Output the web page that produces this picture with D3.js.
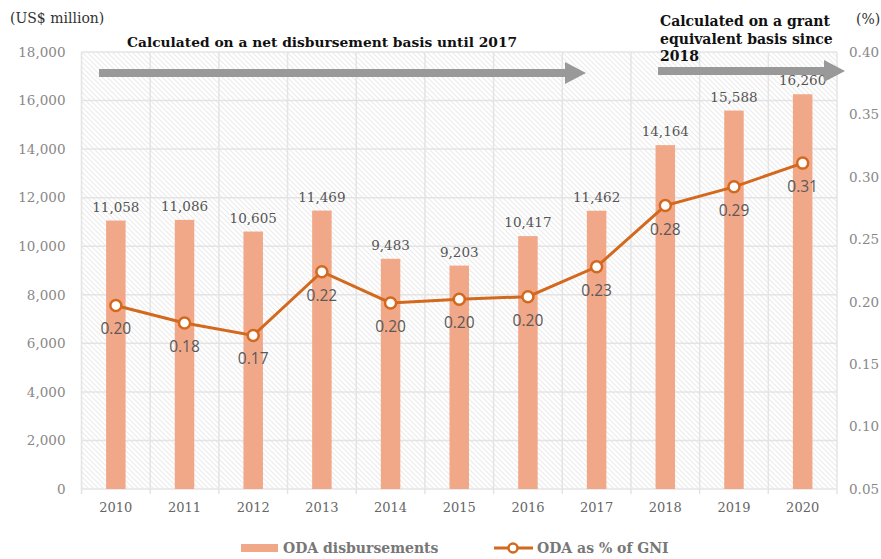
<!DOCTYPE html>
<html><head><meta charset="utf-8">
<script src="https://cdn.jsdelivr.net/npm/d3@7"></script>
<style>body{margin:0;background:#fff}svg{display:block}</style>
</head><body><svg id="c" width="881" height="559"></svg>
<script>
const years = ["2010","2011","2012","2013","2014","2015","2016","2017","2018","2019","2020"];
const odaDisb = [11058,11086,10605,11469,9483,9203,10417,11462,14164,15588,16260];
const odaGni = [0.197,0.183,0.173,0.224,0.199,0.202,0.204,0.228,0.277,0.292,0.311];
const leftTicks = [0,2000,4000,6000,8000,10000,12000,14000,16000,18000];
const rightTicks = [0.05,0.10,0.15,0.20,0.25,0.30,0.35,0.40];

const svg = d3.select("#c");
const serif = "'DejaVu Serif', 'Liberation Serif', serif";
const sans = "'Open Sans', 'DejaVu Sans', sans-serif";
const L = 81.5, R = 837, T = 52, B = 489;
const x = d3.scaleBand().domain(years).range([L, R]).padding(0);
const yL = d3.scaleLinear().domain([0,18000]).range([B, T]);
const yR = d3.scaleLinear().domain([0.05,0.40]).range([B, T]);

const defs = svg.append("defs");
const pat = defs.append("pattern").attr("id","hatch").attr("patternUnits","userSpaceOnUse")
  .attr("width",5).attr("height",5);
pat.append("rect").attr("width",5).attr("height",5).attr("fill","#fff");
pat.append("path").attr("d","M-1,-1 L6,6 M-1,4 L1,6 M4,-1 L6,1").attr("stroke","#ececec").attr("stroke-width",1.1);

svg.append("rect").attr("x",L).attr("y",T).attr("width",R-L).attr("height",B-T).attr("fill","url(#hatch)");

// gridlines
svg.append("g").selectAll("line").data(leftTicks).join("line")
  .attr("x1",L).attr("x2",R).attr("y1",d=>yL(d)).attr("y2",d=>yL(d))
  .attr("stroke","#e4e4e4").attr("stroke-width",1.5);
const vlines = years.map(d=>x(d)).concat([R]);
svg.append("g").selectAll("line").data(vlines).join("line")
  .attr("x1",d=>d).attr("x2",d=>d).attr("y1",T).attr("y2",B+5)
  .attr("stroke","#e4e4e4").attr("stroke-width",1.5);

// left axis
const axL = svg.append("g").attr("transform",`translate(${L},0)`)
  .call(d3.axisLeft(yL).tickValues(leftTicks).tickSize(0).tickPadding(16).tickFormat(d3.format(",")));
axL.select(".domain").remove();
axL.selectAll("text").attr("font-family",serif).attr("font-size",13.5).attr("fill","#888");
// right axis
const axR = svg.append("g").attr("transform",`translate(${R},0)`)
  .call(d3.axisRight(yR).tickValues(rightTicks).tickSize(0).tickPadding(12).tickFormat(d3.format(".2f")));
axR.select(".domain").remove();
axR.selectAll("text").attr("font-family",serif).attr("font-size",13.5).attr("fill","#888");
// x axis
const axB = svg.append("g").attr("transform",`translate(0,${B})`)
  .call(d3.axisBottom(x).tickSize(0).tickPadding(14));
axB.select(".domain").remove();
axB.selectAll("text").attr("font-family",serif).attr("font-size",13).attr("fill","#666");

// bars
const bw = 19.5;
svg.append("g").selectAll("rect").data(odaDisb).join("rect")
  .attr("x",(d,i)=>x(years[i])+x.bandwidth()/2-bw/2).attr("width",bw)
  .attr("y",d=>yL(d)).attr("height",d=>B-yL(d)).attr("fill","#F1A889");
svg.append("g").selectAll("text").data(odaDisb).join("text")
  .attr("x",(d,i)=>x(years[i])+x.bandwidth()/2).attr("y",d=>yL(d)-9)
  .attr("text-anchor","middle").attr("font-family",serif).attr("font-size",13.5).attr("fill","#555")
  .text(d=>d3.format(",")(d));

// arrows
function arrow(x0,x1,yc,th,hw,hl){
  svg.append("path").attr("d",
    `M${x0},${yc-th/2} L${x1-hl},${yc-th/2} L${x1-hl},${yc-hw/2} L${x1},${yc} L${x1-hl},${yc+hw/2} L${x1-hl},${yc+th/2} L${x0},${yc+th/2} Z`)
    .attr("fill","#999");
}
arrow(99,586,73,8,22,21);
arrow(658,845,71,8,22,21);

// line
const cx = (d,i)=>x(years[i])+x.bandwidth()/2;
svg.append("path").datum(odaGni)
  .attr("d",d3.line().x(cx).y(d=>yR(d)))
  .attr("fill","none").attr("stroke","#D2691E").attr("stroke-width",3);
svg.append("g").selectAll("circle").data(odaGni).join("circle")
  .attr("cx",cx).attr("cy",d=>yR(d)).attr("r",5.5)
  .attr("fill","#fff").attr("stroke","#D2691E").attr("stroke-width",2.5);
svg.append("g").selectAll("text").data(odaGni).join("text")
  .attr("x",cx).attr("y",d=>yR(d)+29)
  .attr("text-anchor","middle").attr("font-family",sans).attr("font-size",15.5).attr("fill","#595959")
  .text(d=>d.toFixed(2));

// annotations
svg.append("text").attr("x",10).attr("y",23).attr("font-family",serif).attr("font-size",14).attr("fill","#333").text("(US$ million)");
svg.append("text").attr("x",856).attr("y",24).attr("font-family",serif).attr("font-size",14).attr("fill","#333").text("(%)");
svg.append("text").attr("x",127).attr("y",47).attr("font-family",serif).attr("font-weight","bold").attr("font-size",13.8).attr("fill","#111")
  .text("Calculated on a net disbursement basis until 2017");
const gt = svg.append("text").attr("font-family",serif).attr("font-weight","bold").attr("font-size",14).attr("fill","#111");
["Calculated on a grant","equivalent basis since","2018"].forEach((s,i)=>
  gt.append("tspan").attr("x",660).attr("y",26+i*17.5).text(s));

// legend
const lg = svg.append("g");
lg.append("rect").attr("x",241).attr("y",544).attr("width",37).attr("height",8).attr("fill","#F1A889");
lg.append("text").attr("x",283).attr("y",553).attr("font-family",serif).attr("font-weight","bold").attr("font-size",14).attr("fill","#777").text("ODA disbursements");
lg.append("line").attr("x1",494).attr("x2",533).attr("y1",548).attr("y2",548).attr("stroke","#D2691E").attr("stroke-width",3);
lg.append("circle").attr("cx",513).attr("cy",548).attr("r",4.5).attr("fill","#fff").attr("stroke","#D2691E").attr("stroke-width",2.5);
lg.append("text").attr("x",537).attr("y",553).attr("font-family",serif).attr("font-weight","bold").attr("font-size",14).attr("fill","#777").text("ODA as % of GNI");
</script></body></html>
